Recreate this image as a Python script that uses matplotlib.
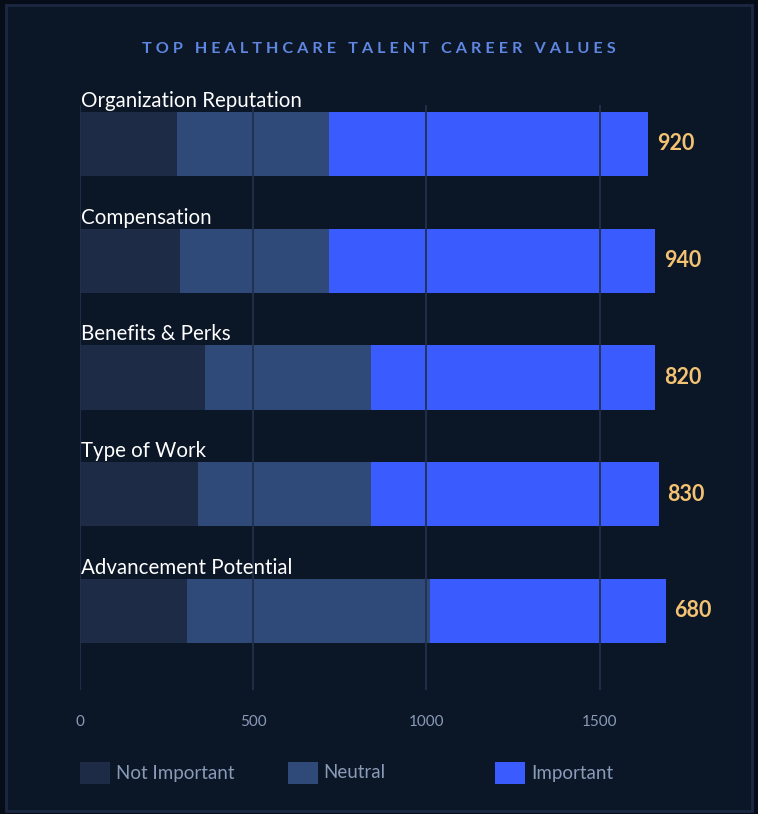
import matplotlib.pyplot as plt
from matplotlib.patches import Rectangle

# data
categories = ['Organization Reputation', 'Compensation', 'Benefits & Perks',
              'Type of Work', 'Advancement Potential']
not_important = [280, 290, 360, 340, 310]
neutral = [440, 430, 480, 500, 700]
important = [920, 940, 820, 830, 680]
series_names = ['Not Important', 'Neutral', 'Important']
xticks = [0, 500, 1000, 1500]

# colors
outer_bg = '#060c18'
bg = '#0b1626'
frame = '#1c2842'
grid = '#22304c'
colors = ['#1d2b47', '#2f4a78', '#3a5cff']
title_col = '#5f86e0'
value_col = '#f3c272'
tick_col = '#8a9bb8'
font = 'Lato'

W, H = 758, 814
fig = plt.figure(figsize=(W / 100, H / 100), dpi=100)
fig.patch.set_facecolor(outer_bg)
fig.add_artist(Rectangle((6 / W, 3 / H), (W - 12) / W, (H - 8) / H,
                         transform=fig.transFigure, facecolor=bg,
                         edgecolor=frame, lw=2, zorder=-10))

# axes placed in pixel terms: x=0 at px 80, 0.3465 px per unit
px_per = 0.3465
xmax = 1900
left, top, bottom = 80, 105, 690
ax = fig.add_axes([left / W, 1 - bottom / H, xmax * px_per / W, (bottom - top) / H])
ax.set_facecolor('none')
ax.set_xlim(0, xmax)
ax.set_ylim(4.677, -0.334)

y = list(range(len(categories)))
lefts = [0] * len(categories)
for vals, c in zip([not_important, neutral, important], colors):
    ax.barh(y, vals, left=lefts, height=0.55, color=c, zorder=2)
    lefts = [a + b for a, b in zip(lefts, vals)]

for yi, tot, imp, cat in zip(y, lefts, important, categories):
    ax.text(tot + 25, yi, str(imp), va='center', ha='left', color=value_col,
            fontsize=15.5, fontweight='bold', family=font, zorder=4)
    ax.text(3, yi - 0.37, cat, va='center', ha='left', color='white',
            fontsize=14.8, family=font, zorder=4)

for xt in xticks:
    ax.axvline(xt, color=grid, lw=1.3, zorder=3)

ax.set_xticks(xticks)
ax.set_xticklabels([str(t) for t in xticks], color=tick_col, fontsize=11, family=font)
ax.tick_params(axis='x', length=0, pad=18)
ax.set_yticks([])
for s in ax.spines.values():
    s.set_visible(False)

# title with letter spacing
title = 'TOP HEALTHCARE TALENT CAREER VALUES'
spaced = '   '.join(' '.join(w) for w in title.split(' '))
fig.text(379 / W, 1 - 49 / H, spaced, ha='center', va='center', color=title_col,
         fontsize=11.7, fontweight='bold', family=font)

# legend
for i, (name, c) in enumerate(zip(series_names, colors)):
    x0 = 80 + i * 207.5
    fig.add_artist(Rectangle((x0 / W, 1 - 784 / H), 30 / W, 22 / H,
                             transform=fig.transFigure, facecolor=c, edgecolor='none'))
    fig.text((x0 + 36) / W, 1 - 773 / H, name, ha='left', va='center',
             color=tick_col, fontsize=13.5, family=font)

fig.savefig('out.png', dpi=100, facecolor=fig.get_facecolor())
